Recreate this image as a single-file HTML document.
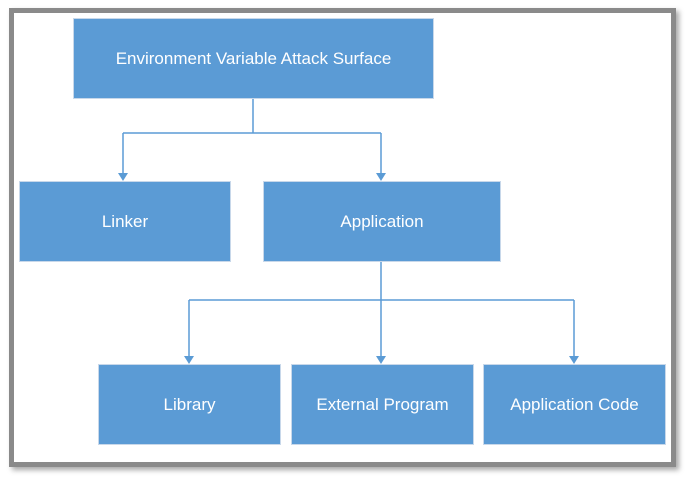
<html><head><style>
body{margin:0;width:687px;height:478px;background:#fff;position:relative;overflow:hidden;font-family:"Liberation Sans",sans-serif}
.frame{position:absolute;left:9px;top:8px;width:657px;height:449px;border:5px solid #8a8a8a;box-shadow:3px 3px 5px rgba(0,0,0,.35);background:#fff}
.b{position:absolute;background:#5b9bd5;border:1px solid #c8d8ea;color:#fff;font-size:17px;display:flex;align-items:center;justify-content:center;box-sizing:border-box}
svg{position:absolute;left:0;top:0}
</style></head><body>
<div class="frame"></div>
<div class="b" style="left:73px;top:18px;width:361px;height:81px">Environment Variable Attack Surface</div>
<div class="b" style="left:19px;top:181px;width:212px;height:81px">Linker</div>
<div class="b" style="left:263px;top:181px;width:238px;height:81px">Application</div>
<div class="b" style="left:98px;top:364px;width:183px;height:81px">Library</div>
<div class="b" style="left:291px;top:364px;width:183px;height:81px">External Program</div>
<div class="b" style="left:483px;top:364px;width:183px;height:81px">Application Code</div>
<svg width="687" height="478" fill="none" stroke="#5b9bd5" stroke-width="1.5">
<path d="M253 99V133M123 133H381M123 133V174M381 133V174M381 262V300M189 300H574M189 300V357M381 300V357M574 300V357"/>
<g fill="#5b9bd5" stroke="none">
<path d="M118 173H128L123 181Z"/><path d="M376 173H386L381 181Z"/>
<path d="M184 356H194L189 364Z"/><path d="M376 356H386L381 364Z"/><path d="M569 356H579L574 364Z"/>
</g></svg>
</body></html>
